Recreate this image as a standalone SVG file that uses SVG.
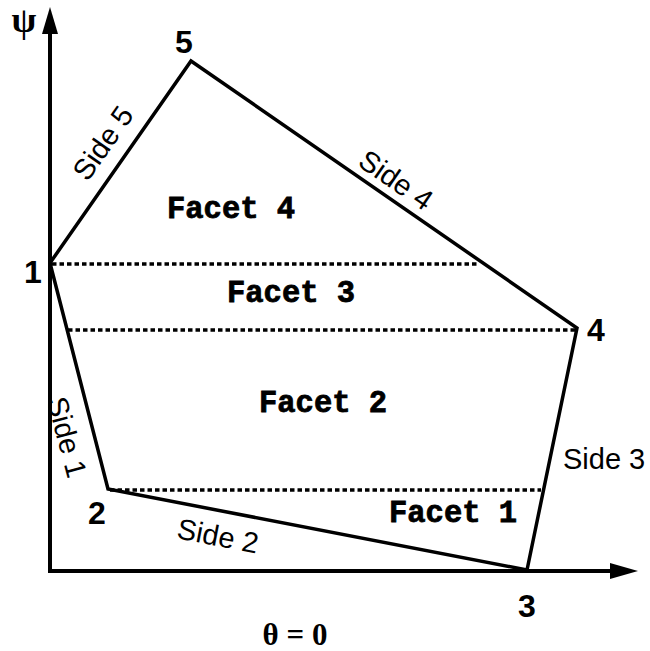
<svg xmlns="http://www.w3.org/2000/svg" width="650" height="651" viewBox="0 0 650 651">
<style>
.ax{stroke:#000;stroke-width:4;fill:none}
.edge{stroke:#000;stroke-width:3.5;fill:none;stroke-linejoin:miter}
.dash{stroke:#000;stroke-width:3.6;stroke-dasharray:4.5 3;fill:none}
.num{font-family:"Liberation Sans",Arial,sans-serif;font-weight:bold;font-size:32px;fill:#000}
.side{font-family:"Liberation Sans",Arial,sans-serif;font-size:29px;fill:#000}
.facet{font-family:"Liberation Mono","Courier New",monospace;font-weight:bold;font-size:30.5px;fill:#000;stroke:#000;stroke-width:0.8}
.greek{font-family:"Liberation Serif","Times New Roman",serif;font-weight:bold;fill:#000}
</style>
<rect width="650" height="651" fill="#fff"/>
<g id="axes">
<line class="ax" x1="50" y1="572" x2="50" y2="30"/>
<polygon points="50,7 42,34 58,34" fill="#000"/>
<line class="ax" x1="48" y1="571" x2="612" y2="571"/>
<polygon points="638,571 610,563 610,579" fill="#000"/>
<text class="greek" x="24" y="32" font-size="36" text-anchor="middle">ψ</text>
<text class="greek" x="295" y="645" font-size="31" font-weight="normal" text-anchor="middle">θ = 0</text>
</g>
<g id="connectors">
<polygon class="edge" points="50,263 191,61 577,328 527,570 108,489"/>
<line class="dash" x1="52" y1="264" x2="478" y2="264"/>
<line class="dash" x1="68" y1="330" x2="575" y2="330"/>
<line class="dash" x1="110" y1="490" x2="541" y2="490"/>
</g>
<g id="vertices">
<text class="num" x="33" y="283" text-anchor="middle">1</text>
<text class="num" x="97" y="524" text-anchor="middle">2</text>
<text class="num" x="527" y="617" text-anchor="middle">3</text>
<text class="num" x="596" y="341" text-anchor="middle">4</text>
<text class="num" x="184" y="53" text-anchor="middle">5</text>
</g>
<g id="sides">
<text class="side" transform="translate(103,143) rotate(-55)" y="10" text-anchor="middle">Side 5</text>
<text class="side" transform="translate(396,180) rotate(34.5)" y="10" text-anchor="middle">Side 4</text>
<text class="side" transform="translate(67,437) rotate(75)" y="10" text-anchor="middle">Side 1</text>
<text class="side" transform="translate(218,536) rotate(11)" y="10" text-anchor="middle">Side 2</text>
<text class="side" x="563" y="469">Side 3</text>
</g>
<g id="facets">
<text class="facet" x="167" y="218">Facet 4</text>
<text class="facet" x="227" y="302">Facet 3</text>
<text class="facet" x="259" y="412">Facet 2</text>
<text class="facet" x="389" y="522">Facet 1</text>
</g>
</svg>
